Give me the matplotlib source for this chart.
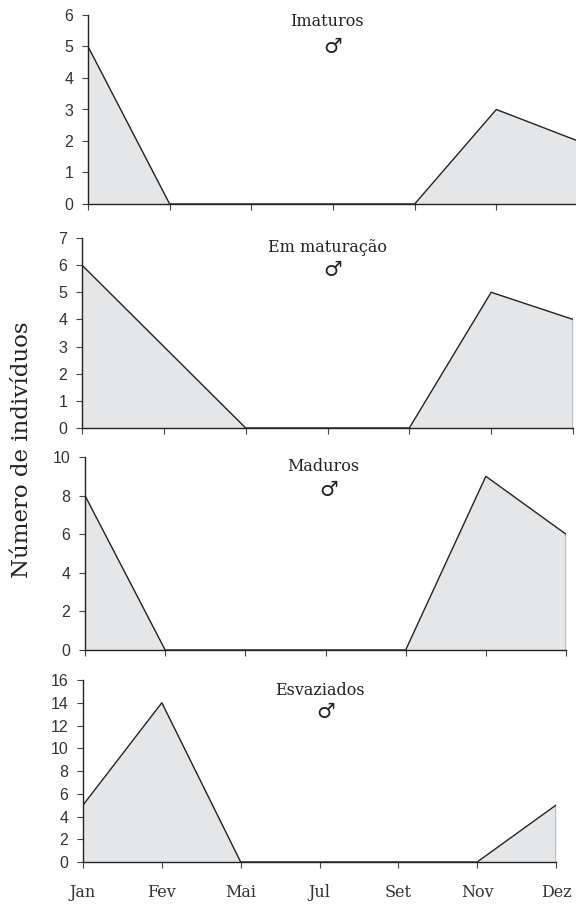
import matplotlib.pyplot as plt
import numpy as np

months = ['Jan', 'Fev', 'Mai', 'Jul', 'Set', 'Nov', 'Dez']

imaturos = [5, 0, 0, 0, 0, 3, 2]
em_maturacao = [6, 3, 0, 0, 0, 5, 4]
maduros = [8, 0, 0, 0, 0, 9, 6]
esvaziados = [5, 14, 0, 0, 0, 0, 5]

titles = ['Imaturos', 'Em maturação', 'Maduros', 'Esvaziados']
series = [imaturos, em_maturacao, maduros, esvaziados]
yticks = [np.arange(0, 7, 1), np.arange(0, 8, 1), np.arange(0, 11, 2), np.arange(0, 17, 2)]

# axes boxes in pixels: left, right, top, bottom
W, H = 576, 905
boxes = [(88, 578, 15, 204), (82, 573, 238, 428), (85, 566, 457, 650), (83, 556, 680, 862)]
title_pos = [(327, 22, 47), (327, 248, 270), (323, 466, 490), (320, 690, 712)]

fig = plt.figure(figsize=(W / 100, H / 100), dpi=100)
x = np.arange(len(months))

for i, (vals, title, yt, box) in enumerate(zip(series, titles, yticks, boxes)):
    l, r, t, b = box
    ax = fig.add_axes([l / W, 1 - b / H, (r - l) / W, (b - t) / H])
    ax.fill_between(x, vals, 0, color='#e5e6e8', lw=0)
    ax.plot(x, vals, color='#222222', lw=1.0)
    ax.plot([x[-1], x[-1]], [0, vals[-1]], color='#222222', lw=1.0)
    ax.set_xlim(0, len(months) - 1)
    ax.set_ylim(0, yt[-1])
    ax.set_yticks(yt)
    ax.set_xticks(x)
    for s in ['top', 'right']:
        ax.spines[s].set_visible(False)
    for s in ['left', 'bottom']:
        ax.spines[s].set_color('#222222')
        ax.spines[s].set_linewidth(1.0)
        ax.spines[s].set_zorder(5)
    ax.tick_params(direction='out', length=4.5, width=0.8, color='#444444',
                   labelsize=11.5, labelcolor='#333333', pad=6)
    for lab in ax.get_yticklabels():
        lab.set_family('Liberation Sans')
    if i < 3:
        ax.set_xticklabels([])
    else:
        ax.set_xticklabels(months, family='DejaVu Serif', fontsize=11.5)
        ax.tick_params(axis='x', pad=11)
    tx, ty, sy = title_pos[i]
    fig.text(tx / W, 1 - ty / H, title, ha='center', va='center',
             family='DejaVu Serif', fontsize=11.5, color='#222222')
    fig.text(tx / W + 0.01, 1 - sy / H, '\u2642', ha='center', va='center',
             family='DejaVu Sans', fontsize=15, color='#222222')

fig.text(22 / W, 1 - 450 / H, 'Número de indivíduos', rotation=90, ha='center',
         va='center', family='DejaVu Serif', fontsize=16.5, color='#222222')

fig.savefig('out.png', dpi=100)
